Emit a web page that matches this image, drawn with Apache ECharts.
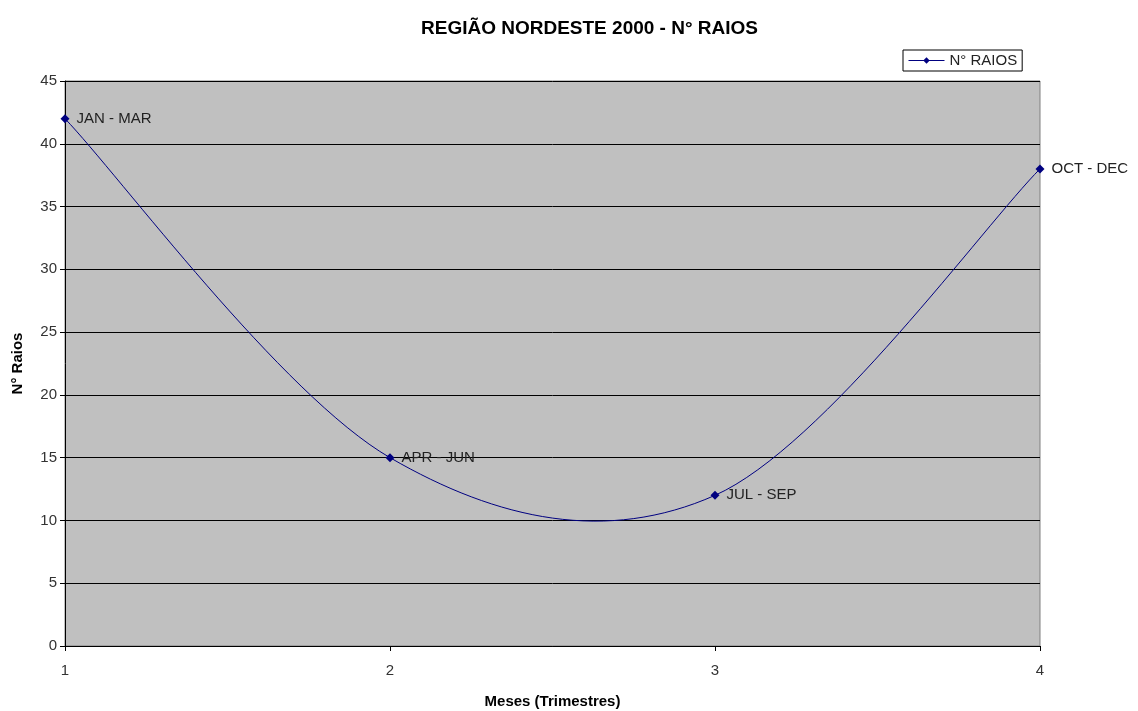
<!DOCTYPE html>
<html><head><meta charset="utf-8">
<script src="https://cdn.jsdelivr.net/npm/echarts@6/dist/echarts.min.js"></script>
<style>html,body{margin:0;padding:0;background:#fff}#c{width:1138px;height:711px}</style>
</head><body><div id="c"></div>
<script>
const quarters = [1, 2, 3, 4];
const labels = ['JAN - MAR', 'APR - JUN', 'JUL - SEP', 'OCT - DEC'];
const raios = [42, 15, 12, 38];
const chart = echarts.init(document.getElementById('c'));
const FONT = '"Liberation Sans", Arial, sans-serif';
const NAVY = '#000080';
const points = quarters.map((q, i) => [q, raios[i]]);

// Excel-style (Catmull-Rom) smoothed curve, computed in pixel space from the axes
function renderCurve(params, api) {
  if (params.dataIndex !== 0) return null;
  const p = points.map(d => api.coord(d));
  const n = p.length;
  let d = 'M' + p[0][0] + ' ' + p[0][1];
  for (let i = 0; i < n - 1; i++) {
    const p0 = p[Math.max(i - 1, 0)], p1 = p[i], p2 = p[i + 1], p3 = p[Math.min(i + 2, n - 1)];
    const c1 = [p1[0] + (p2[0] - p0[0]) / 6, p1[1] + (p2[1] - p0[1]) / 6];
    const c2 = [p2[0] - (p3[0] - p1[0]) / 6, p2[1] - (p3[1] - p1[1]) / 6];
    d += ' C' + c1[0] + ' ' + c1[1] + ' ' + c2[0] + ' ' + c2[1] + ' ' + p2[0] + ' ' + p2[1];
  }
  return { type: 'path', shape: { pathData: d }, style: { fill: null, stroke: NAVY, lineWidth: 1 }, silent: true };
}

chart.setOption({
  animation: false,
  title: {
    text: 'REGIÃO NORDESTE 2000 - N° RAIOS',
    left: 416, top: 14,
    textStyle: { fontFamily: FONT, fontSize: 19, fontWeight: 'bold', color: '#000' }
  },
  legend: {
    data: [{ name: 'N° RAIOS' }],
    left: 903, top: 50,
    backgroundColor: '#fff', borderColor: '#000', borderWidth: 1,
    padding: [3, 5, 3, 5],
    itemWidth: 36, itemHeight: 8, itemGap: 4,
    lineStyle: { color: NAVY, width: 1, opacity: 1 },
    textStyle: { fontFamily: FONT, fontSize: 15, color: '#222' }
  },
  grid: {
    left: 65, right: 98, top: 81, bottom: 65,
    outerBoundsMode: 'none', containLabel: false,
    show: true, backgroundColor: '#c0c0c0', borderColor: '#808080', borderWidth: 1
  },
  xAxis: {
    type: 'value', min: 1, max: 4, interval: 1,
    name: 'Meses (Trimestres)', nameLocation: 'middle', nameGap: 48,
    nameTextStyle: { fontFamily: FONT, fontSize: 15, fontWeight: 'bold', color: '#000' },
    axisLine: { show: true, lineStyle: { color: '#000' } },
    axisTick: { show: true, length: 5, lineStyle: { color: '#000' } },
    axisLabel: { fontFamily: FONT, fontSize: 15, color: '#333', margin: 17 },
    splitLine: { show: false }
  },
  yAxis: {
    type: 'value', min: 0, max: 45, interval: 5,
    name: 'N° Raios', nameLocation: 'middle', nameGap: 40, nameRotate: 90,
    nameTextStyle: { fontFamily: FONT, fontSize: 15, fontWeight: 'bold', color: '#000' },
    axisLine: { show: true, lineStyle: { color: '#000' } },
    axisTick: { show: true, length: 5, lineStyle: { color: '#000' } },
    axisLabel: { fontFamily: FONT, fontSize: 15, color: '#333', margin: 8 },
    splitLine: { show: true, lineStyle: { color: '#000', width: 1 } }
  },
  series: [{
    name: 'N° RAIOS',
    type: 'line',
    data: points,
    symbol: 'diamond', symbolSize: 9,
    itemStyle: { color: NAVY },
    lineStyle: { color: NAVY, width: 1, opacity: 0 },
    z: 3,
    label: {
      show: true, position: 'right', distance: 7,
      formatter: p => labels[p.dataIndex],
      fontFamily: FONT, fontSize: 15, color: '#222'
    }
  }, {
    name: 'curve',
    type: 'custom',
    data: points,
    renderItem: renderCurve,
    z: 2,
    silent: true
  }]
});
</script></body></html>
